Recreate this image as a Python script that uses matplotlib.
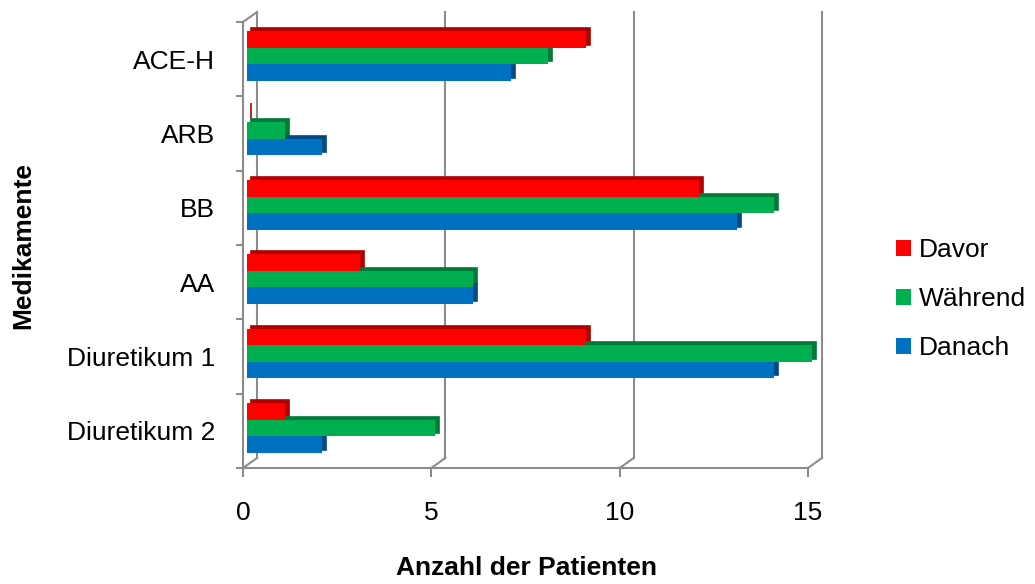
import matplotlib
matplotlib.use("Agg")
from matplotlib import pyplot as plt
from matplotlib.transforms import ScaledTranslation
import numpy as np

plt.rcParams['font.family'] = ['Liberation Sans', 'DejaVu Sans']

# data (bottom to top)
categories = ['Diuretikum 2', 'Diuretikum 1', 'AA', 'BB', 'ARB', 'ACE-H']
davor = [1, 9, 3, 12, 0, 9]
waehrend = [5, 15, 6, 14, 1, 8]
danach = [2, 14, 6, 13, 2, 7]

series = [('Davor', davor, '#ff0000', '#b00000'),
          ('Während', waehrend, '#00b050', '#007a38'),
          ('Danach', danach, '#0070c0', '#004a85')]

W, H, DPI = 1035, 584, 100
fig = plt.figure(figsize=(W / DPI, H / DPI), dpi=DPI)
ax_box = [243 / W, 116 / H, 565 / W, 446 / H]
ax = fig.add_axes(ax_box)

xmax = 15
ax.set_xlim(0, xmax)
ax.set_ylim(-0.5, len(categories) - 0.5)

# 3D depth of the chart walls in data units
px_x = ax_box[2] * W / xmax
px_y = ax_box[3] * H / len(categories)
dx, dy = 14 / px_x, 10 / px_y

grid_c = '#8c8c8c'
grid_lw = 1.5

# back wall gridlines + floor diagonals
xt = [0, 5, 10, 15]
for xv in xt:
    ax.plot([xv + dx, xv + dx], [-0.5 + dy, len(categories) - 0.5 + dy],
            color=grid_c, lw=grid_lw, clip_on=False, zorder=1)
    ax.plot([xv, xv + dx], [-0.5, -0.5 + dy], color=grid_c, lw=grid_lw,
            clip_on=False, zorder=1)
ax.plot([0, dx], [len(categories) - 0.5, len(categories) - 0.5 + dy],
        color=grid_c, lw=grid_lw, clip_on=False, zorder=1)

# bars
y = np.arange(len(categories))
h = 0.222
shift = 0.04
face_tr = ax.transData + ScaledTranslation(4 / DPI, 0, fig.dpi_scale_trans)
side_tr = ax.transData + ScaledTranslation(8 / DPI, 3 / DPI, fig.dpi_scale_trans)
for i, (label, vals, col, dark) in enumerate(series):
    yy = y + shift + (1 - i) * h
    ax.barh(yy, vals, height=h, color=dark, edgecolor=dark, lw=1.2,
            transform=side_tr, zorder=2, clip_on=False)
    ax.barh(yy, vals, height=h, color=col, lw=0, transform=face_tr,
            zorder=3, label=label, clip_on=False)

# axes
for s in ['top', 'right']:
    ax.spines[s].set_visible(False)
for s in ['left', 'bottom']:
    ax.spines[s].set_color(grid_c)
    ax.spines[s].set_linewidth(grid_lw)
    ax.spines[s].set_zorder(4)

ax.set_xticks(xt)
ax.set_xticklabels([str(v) for v in xt])
ax.tick_params(axis='x', length=6.5, width=grid_lw, color=grid_c,
               labelsize=19, pad=17)
ax.set_yticks(np.arange(-0.5, len(categories)), labels=[])
ax.tick_params(axis='y', which='major', length=5, width=grid_lw, color=grid_c)
ax.set_yticks(y, labels=categories, minor=True)
ax.tick_params(axis='y', which='minor', length=0, labelsize=19, pad=20)

fig.text(526 / W, 1 - 568 / H, 'Anzahl der Patienten', fontsize=19,
         fontweight='bold', ha='center', va='center')
fig.text(23 / W, 1 - 245 / H, 'Medikamente', fontsize=19,
         fontweight='bold', ha='center', va='center', rotation=90)

ax.legend(loc='center left', bbox_to_anchor=(896 / W, 1 - 299 / H),
          bbox_transform=fig.transFigure, frameon=False, fontsize=19,
          handlelength=0.55, handleheight=0.55, handletextpad=0.3,
          labelspacing=0.95, borderpad=0, borderaxespad=0)

fig.savefig('out.png', dpi=DPI)
